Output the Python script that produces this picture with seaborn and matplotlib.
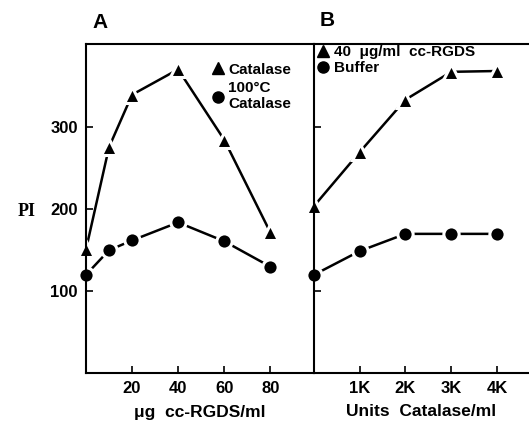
import matplotlib
matplotlib.use("Agg")
import matplotlib.pyplot as plt
import seaborn as sns
import pandas as pd
from matplotlib.lines import Line2D

sns.set_style("white")
plt.rcParams['font.family'] = ['Liberation Sans', 'DejaVu Sans']
plt.rcParams['text.color'] = 'black'
plt.rcParams['axes.labelcolor'] = 'black'
plt.rcParams['xtick.color'] = 'black'
plt.rcParams['ytick.color'] = 'black'

# Panel A data
a_x = [0, 10, 20, 40, 60, 80]
a_catalase = [151, 276, 340, 371, 285, 172]
a_heated = [120, 150, 162, 184, 161, 130]
a_ticks = [20, 40, 60, 80]
a_ticklabels = ["20", "40", "60", "80"]

# Panel B data
b_x = [0, 1, 2, 3, 4]
b_rgds = [204, 270, 334, 368, 369]
b_buffer = [120, 149, 170, 170, 170]
b_ticks = [1, 2, 3, 4]
b_ticklabels = ["1K", "2K", "3K", "4K"]

y_ticks = [100, 200, 300]

dfA = pd.DataFrame({"x": a_x * 2, "PI": a_catalase + a_heated,
                    "series": ["Catalase"] * len(a_x) + ["100°C\nCatalase"] * len(a_x)})
dfB = pd.DataFrame({"x": b_x * 2, "PI": b_rgds + b_buffer,
                    "series": ["40  μg/ml  cc-RGDS"] * len(b_x) + ["Buffer"] * len(b_x)})

fig = plt.figure(figsize=(5.29, 4.29), dpi=100)
W, H = 529, 429
axA = fig.add_axes([86 / W, (H - 373) / H, 228 / W, 329 / H])
axB = fig.add_axes([314 / W, (H - 373) / H, 215 / W, 329 / H])

line_kw = dict(color="black", linewidth=1.8,
               markeredgecolor="white", markeredgewidth=2.2, legend=False)

TICK_FS = 12
for ax, df, xlim in [(axA, dfA, (0, 99)), (axB, dfB, (0, 4.7))]:
    names = list(dict.fromkeys(df["series"]))
    sns.lineplot(data=df[df.series == names[0]], x="x", y="PI", marker="^",
                 markersize=12, ax=ax, **line_kw)
    sns.lineplot(data=df[df.series == names[1]], x="x", y="PI", marker="o",
                 markersize=11, ax=ax, **line_kw)
    ax.set_xlim(*xlim)
    ax.set_ylim(0, 402)
    for l in ax.lines:
        l.set_clip_on(False)
    for s in ax.spines.values():
        s.set_color("black")
        s.set_linewidth(1.5)
    ax.tick_params(direction="in", length=5, width=1.2, colors="black",
                   labelsize=TICK_FS, pad=6)
    ax.set_yticks(y_ticks)
    ax.set_xlabel("")
    ax.set_ylabel("")

axA.set_xticks(a_ticks)
axA.set_xticklabels(a_ticklabels, fontweight="bold", fontsize=TICK_FS, color="black")
axA.set_yticklabels([str(v) for v in y_ticks], fontweight="bold", fontsize=TICK_FS, color="black")
axA.tick_params(axis="y", left=True, labelleft=True)
axA.tick_params(axis="x", bottom=True)
axA.spines["right"].set_visible(False)

axB.set_xticks(b_ticks)
axB.set_xticklabels(b_ticklabels, fontweight="bold", fontsize=TICK_FS, color="black")
axB.set_yticklabels([])
axB.tick_params(axis="y", left=True)
axB.tick_params(axis="x", bottom=True)
axB.spines["right"].set_visible(False)

def handles():
    return [Line2D([], [], color="black", marker="^", linestyle="", markersize=8),
            Line2D([], [], color="black", marker="o", linestyle="", markersize=8)]

namesA = list(dict.fromkeys(dfA["series"]))
namesB = list(dict.fromkeys(dfB["series"]))
legA = axA.legend(handles(), namesA, loc="upper right", frameon=False,
                  prop={"weight": "bold", "size": 11}, handletextpad=0.2,
                  handlelength=1.0, borderaxespad=0.5, labelspacing=0.3,
                  bbox_to_anchor=(0.96, 0.985))
legB = axB.legend(handles(), namesB, loc="upper left", frameon=False,
                  prop={"weight": "bold", "size": 11}, handletextpad=0.3,
                  handlelength=0.8, borderaxespad=0.2, labelspacing=0.15,
                  bbox_to_anchor=(-0.03, 1.025))

fig.text(100 / W, 1 - 22 / H, "A", fontsize=15, fontweight="bold", va="center", ha="center")
fig.text(327 / W, 1 - 20 / H, "B", fontsize=15, fontweight="bold", va="center", ha="center")
fig.text(27 / W, 1 - 212 / H, "PI", fontsize=13, fontweight="bold", va="center", ha="center",
         family="Liberation Serif")
fig.text(200 / W, 1 - 412 / H, "μg  cc-RGDS/ml", fontsize=12.5, fontweight="bold",
         va="center", ha="center")
fig.text(421 / W, 1 - 412 / H, "Units  Catalase/ml", fontsize=12.5, fontweight="bold",
         va="center", ha="center")

fig.savefig("out.png", dpi=100)
